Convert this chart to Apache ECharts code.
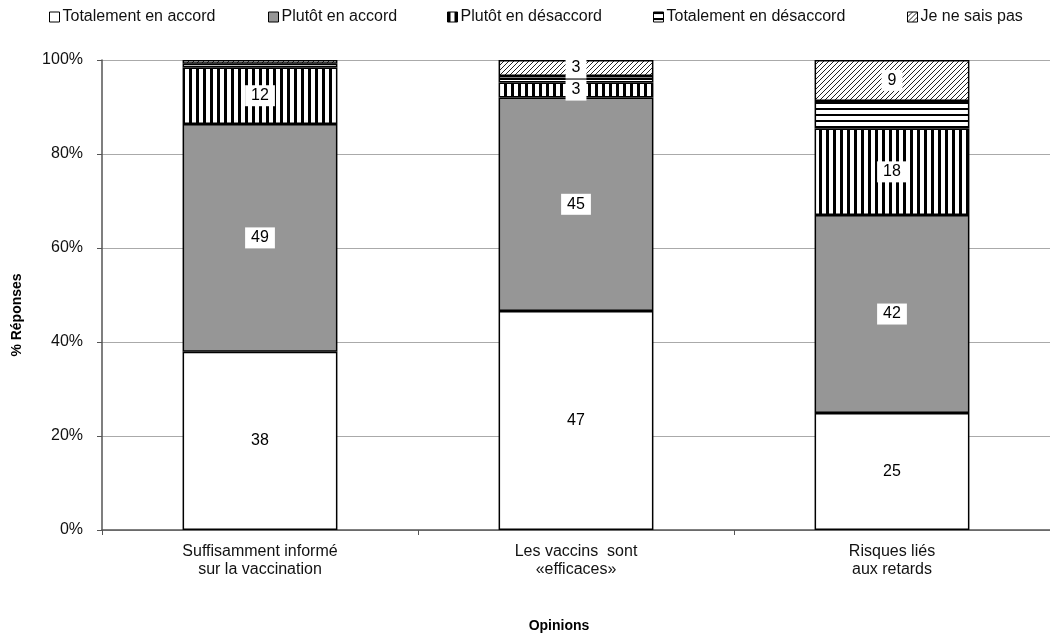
<!DOCTYPE html>
<html><head><meta charset="utf-8">
<script src="https://cdn.jsdelivr.net/npm/echarts@6/dist/echarts.min.js"></script>
<style>html,body{margin:0;padding:0;background:#fff}#c{width:1050px;height:637px}</style>
</head><body><div id="c"></div>
<script>
const categories = ['Suffisamment informé\nsur la vaccination', 'Les vaccins  sont\n«efficaces»', 'Risques liés\naux retards'];
const seriesNames = ['Totalement en accord', 'Plutôt en accord', 'Plutôt en désaccord', 'Totalement en désaccord', 'Je ne sais pas'];
const totAccord = [37.9, 46.6, 24.9];
const plutotAccord = [48.5, 45.4, 42.1];
const plutotDesaccord = [12.0, 3.2, 18.4];
const totDesaccord = [0.8, 1.4, 5.9];
const nspData = [0.8, 3.4, 8.7];
const yTickLabels = ['0%', '20%', '40%', '60%', '80%', '100%'];

const FONT = 'Liberation Sans';
const FS = 16;

function makePattern(type) {
  const c = document.createElement('canvas');
  let w = 7, h = 7;
  if (type === 'h') { w = 6; h = 6; }
  if (type === 'd') { w = 5; h = 5; }
  c.width = w; c.height = h;
  const g = c.getContext('2d');
  g.fillStyle = '#fff'; g.fillRect(0, 0, w, h);
  g.fillStyle = '#000';
  if (type === 'v') { g.fillRect(0, 0, 3, h); }
  else if (type === 'h') { g.fillRect(0, 0, w, 2); }
  else if (type === 'd') {
    g.strokeStyle = '#222'; g.lineWidth = 1;
    g.beginPath();
    g.moveTo(0, h); g.lineTo(w, 0);
    g.moveTo(-1, 1); g.lineTo(1, -1);
    g.moveTo(w - 1, h + 1); g.lineTo(w + 1, h - 1);
    g.stroke();
  }
  return { image: c, repeat: 'repeat' };
}

const fills = ['#ffffff', '#969696', makePattern('v'), makePattern('h'), makePattern('d')];
const dataSets = [totAccord, plutotAccord, plutotDesaccord, totDesaccord, nspData];
const legendLefts = [49, 268, 447, 653, 907];

const series = dataSets.map((d, i) => ({
  name: seriesNames[i],
  type: 'bar',
  stack: 'total',
  barWidth: '49%',
  data: d.map(v => (i !== 3 && v >= 2) ? v : { value: v, label: { show: false } }),
  itemStyle: { color: fills[i], borderColor: '#000', borderWidth: 1.5 },
  label: {
    show: i !== 3,
    position: 'inside',
    fontFamily: FONT,
    fontSize: FS,
    color: '#000',
    backgroundColor: i === 0 ? 'transparent' : '#fff',
    padding: [3, 6, 2, 6],
    formatter: p => String(Math.round(p.value))
  },
  emphasis: { disabled: true }
}));

const legends = seriesNames.map((n, i) => ({
  data: [n],
  left: legendLefts[i],
  top: 9,
  padding: 0,
  itemWidth: 10,
  itemHeight: 10,
  itemGap: 0,
  icon: 'rect',
  itemStyle: { borderColor: '#000', borderWidth: 1 },
  textStyle: { fontFamily: FONT, fontSize: FS, color: '#111', padding: [0, 0, 0, -2] },
  selectedMode: false
}));

const chart = echarts.init(document.getElementById('c'), null, { renderer: 'canvas' });
chart.setOption({
  animation: false,
  backgroundColor: '#fff',
  legend: legends,
  grid: { left: 102, right: -8, top: 60, bottom: 107, containLabel: false },
  xAxis: {
    type: 'category',
    data: categories,
    axisLine: { lineStyle: { color: '#555', width: 1.5 } },
    axisTick: { show: true, length: 5, lineStyle: { color: '#555' } },
    axisLabel: { fontFamily: FONT, fontSize: FS, color: '#111', margin: 13, lineHeight: 18 }
  },
  yAxis: {
    type: 'value',
    min: 0, max: 100, interval: 20,
    axisLine: { show: true, lineStyle: { color: '#555', width: 1.5 } },
    axisTick: { show: true, length: 5, lineStyle: { color: '#555' } },
    splitLine: { lineStyle: { color: '#aaa', width: 1 } },
    axisLabel: {
      fontFamily: FONT, fontSize: FS, color: '#111', margin: 19,
      formatter: v => yTickLabels[Math.round(v / 20)]
    }
  },
  graphic: [
    { type: 'text', x: 17, y: 315, rotation: Math.PI / 2,
      style: { text: '% Réponses', font: 'bold 14px "' + FONT + '"', fill: '#000', align: 'center', verticalAlign: 'middle' } },
    { type: 'text', x: 559, y: 626,
      style: { text: 'Opinions', font: 'bold 14px "' + FONT + '"', fill: '#000', align: 'center', verticalAlign: 'middle' } }
  ],
  series: series
});
</script>
</body></html>
